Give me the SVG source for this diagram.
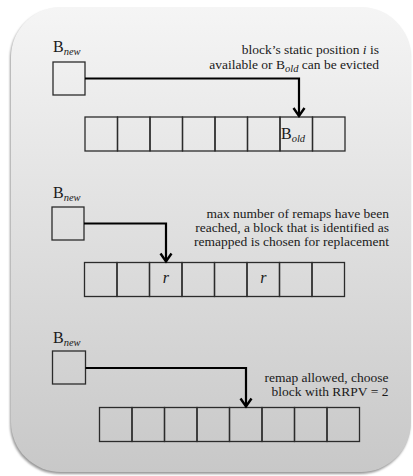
<svg xmlns="http://www.w3.org/2000/svg" width="413" height="476" viewBox="0 0 413 476">
  <defs>
    <linearGradient id="panelFill" x1="0" y1="0" x2="0" y2="1">
      <stop offset="0" stop-color="#f5f5f5"/>
      <stop offset="1" stop-color="#c8c8c8"/>
    </linearGradient>
    <filter id="soft" x="-5%" y="-5%" width="110%" height="110%">
      <feGaussianBlur stdDeviation="1.2"/>
    </filter>
    <marker id="chevron" markerUnits="userSpaceOnUse" markerWidth="14" markerHeight="14" refX="9" refY="6" orient="auto" overflow="visible">
      <path d="M1,0.5 L9,6 L1,11.5" fill="none" stroke="#000" stroke-width="2.4" stroke-linejoin="miter"/>
    </marker>
    <!-- one array slot -->
    <rect id="slot" width="32.5" height="34" class="cell"/>
  </defs>
  <style>
    .cell { fill: none; stroke: #2b2b2b; stroke-width: 1.3; }
    .blk { fill: none; stroke: #2b2b2b; stroke-width: 1.3; }
    .wire { fill: none; stroke: #000; stroke-width: 2.2; marker-end: url(#chevron); }
    .lbl { font-family: "Liberation Serif", "Times New Roman", serif; fill: #1a1a1a; }
    .big { font-size: 16px; }
    .sub { font-size: 10.5px; font-style: italic; }
    .note { font-size: 13.5px; text-anchor: end; }
    .it { font-style: italic; }
  </style>

  <!-- background panel with soft shadow -->
  <rect x="10" y="9" width="400" height="465" rx="50" fill="#9a9a9a" filter="url(#soft)"/>
  <rect x="11" y="7" width="400" height="465" rx="50" fill="url(#panelFill)"/>

  <!-- case 1: static position free or evictable -->
  <g id="new-block-1">
    <rect class="blk" x="53" y="62" width="32" height="33"/>
    <text class="lbl big" x="53" y="52">B<tspan class="sub" dy="3">new</tspan></text>
  </g>
  <g id="set-1">
    <use href="#slot" x="85" y="117"/>
    <use href="#slot" x="117.5" y="117"/>
    <use href="#slot" x="150" y="117"/>
    <use href="#slot" x="182.5" y="117"/>
    <use href="#slot" x="215" y="117"/>
    <use href="#slot" x="247.5" y="117"/>
    <use href="#slot" x="280" y="117"/>
    <use href="#slot" x="312.5" y="117"/>
    <text class="lbl big" x="281" y="139">B<tspan class="sub" dy="3">old</tspan></text>
  </g>
  <g id="note-1" class="lbl note">
    <text x="379" y="54">block’s static position <tspan class="it">i</tspan> is</text>
    <text x="379" y="69">available or B<tspan class="sub" dy="2.5">old</tspan><tspan dy="-2.5"> can be evicted</tspan></text>
  </g>

  <!-- case 2: remap limit reached -->
  <g id="new-block-2">
    <rect class="blk" x="52" y="207" width="32" height="33"/>
    <text class="lbl big" x="53" y="198">B<tspan class="sub" dy="3">new</tspan></text>
  </g>
  <g id="set-2">
    <use href="#slot" x="84.5" y="262.5"/>
    <use href="#slot" x="117" y="262.5"/>
    <use href="#slot" x="149.5" y="262.5"/>
    <use href="#slot" x="182" y="262.5"/>
    <use href="#slot" x="214.5" y="262.5"/>
    <use href="#slot" x="247" y="262.5"/>
    <use href="#slot" x="279.5" y="262.5"/>
    <use href="#slot" x="312" y="262.5"/>
    <text class="lbl big it" x="165.75" y="283" text-anchor="middle">r</text>
    <text class="lbl big it" x="263.25" y="283" text-anchor="middle">r</text>
  </g>
  <g id="note-2" class="lbl note">
    <text x="389" y="218">max number of remaps have been</text>
    <text x="389" y="232">reached, a block that is identified as</text>
    <text x="389" y="246">remapped is chosen for replacement</text>
  </g>

  <!-- case 3: remap allowed -->
  <g id="new-block-3">
    <rect class="blk" x="52.5" y="351" width="33" height="33"/>
    <text class="lbl big" x="53" y="343">B<tspan class="sub" dy="3">new</tspan></text>
  </g>
  <g id="set-3">
    <use href="#slot" x="99.5" y="407.5"/>
    <use href="#slot" x="132" y="407.5"/>
    <use href="#slot" x="164.5" y="407.5"/>
    <use href="#slot" x="197" y="407.5"/>
    <use href="#slot" x="229.5" y="407.5"/>
    <use href="#slot" x="262" y="407.5"/>
    <use href="#slot" x="294.5" y="407.5"/>
    <use href="#slot" x="327" y="407.5"/>
  </g>
  <g id="note-3" class="lbl note">
    <text x="388.5" y="382">remap allowed, choose</text>
    <text x="388.5" y="396">block with RRPV = 2</text>
  </g>

  <!-- connectors -->
  <g id="connectors">
    <path class="wire" d="M85,78.5 H299 V116"/>
    <path class="wire" d="M84,223.5 H166 V261.5"/>
    <path class="wire" d="M85.5,368 H246 V406.5"/>
  </g>
</svg>
